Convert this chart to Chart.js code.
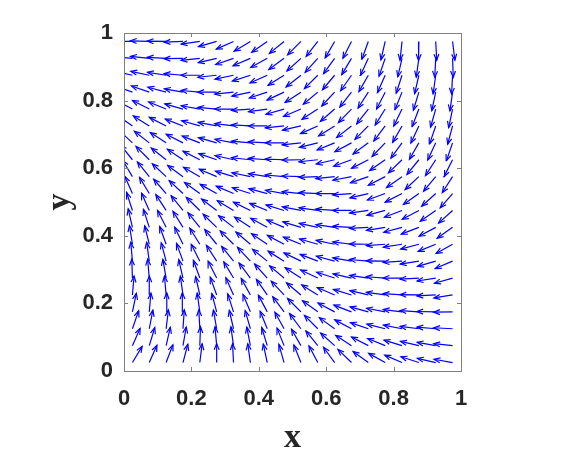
<!DOCTYPE html>
<html>
<head>
<meta charset="utf-8">
<script src="https://cdn.jsdelivr.net/npm/chart.js@4.4.1/dist/chart.umd.min.js"></script>
<style>
  html, body { margin: 0; padding: 0; background: #fff; }
  #wrap { width: 566px; height: 454px; }
</style>
</head>
<body>
<div id="wrap"><canvas id="quiverChart" width="566" height="454"></canvas></div>
<script>
// grid of arrow tails
const xCols = [0.025, 0.075, 0.125, 0.175, 0.225, 0.275, 0.325, 0.375, 0.425, 0.475,
               0.525, 0.575, 0.625, 0.675, 0.725, 0.775, 0.825, 0.875, 0.925, 0.975];
// rows listed top to bottom, same order as angleRows
const yRows = [0.975, 0.925, 0.875, 0.825, 0.775, 0.725, 0.675, 0.625, 0.575, 0.525,
               0.475, 0.425, 0.375, 0.325, 0.275, 0.225, 0.175, 0.125, 0.075, 0.025];

// arrow direction in degrees (0 = pointing right, 90 = up)
const angleRows = [
  [180,178,179,182,188,196,204,211,215,219,225,232,240,243,250,257,264,269,273,277],
  [175,174,177,181,186,193,199,203,209,216,222,228,234,239,245,251,257,262,267,272],
  [168,168,171,175,180,186,192,198,204,212,218,225,230,235,240,246,252,257,262,267],
  [160,161,165,170,175,180,186,192,198,205,213,220,227,232,237,243,248,253,258,262],
  [152,153,158,164,170,175,180,184,188,196,203,213,221,226,232,238,244,249,254,258],
  [145,148,153,159,164,169,173,177,180,186,193,204,212,218,225,233,240,245,251,255],
  [137,142,147,153,159,164,169,175,177,180,186,194,202,208,216,226,234,240,245,251],
  [129,135,142,146,153,161,167,174,176,178,181,186,193,200,207,215,224,231,237,243],
  [121,129,137,144,150,157,163,168,171,175,178,182,186,191,199,207,215,223,230,237],
  [114,121,131,137,144,151,157,162,165,170,174,177,180,184,193,200,207,215,222,229],
  [108,114,123,129,136,143,149,154,158,163,169,172,176,180,188,195,201,208,215,222],
  [103,108,117,122,129,136,142,147,151,157,163,168,172,177,183,189,195,201,208,215],
  [ 99,104,110,116,122,129,135,140,146,152,158,164,168,173,179,184,189,195,202,209],
  [ 95, 98,105,110,117,123,129,133,141,148,154,159,165,170,175,179,184,189,196,203],
  [ 92, 95,100,103,110,117,121,127,132,140,147,155,162,167,172,176,180,183,189,196],
  [ 85, 90, 95, 98,103,110,114,119,125,133,140,148,157,163,167,172,176,179,183,189],
  [ 78, 85, 88, 92, 98,105,108,113,118,127,135,144,152,159,165,169,173,176,179,181],
  [ 71, 79, 83, 86, 93,100,103,106,112,119,127,135,144,152,161,166,169,173,175,177],
  [ 66, 73, 77, 80, 88, 95, 98,101,107,112,120,129,138,147,153,158,163,167,170,174],
  [ 59, 66, 69, 75, 83, 90, 93, 98,102,106,112,118,126,136,144,151,157,162,167,170]
];

const xTicks = [0, 0.2, 0.4, 0.6, 0.8, 1];
const yTicks = [0, 0.2, 0.4, 0.6, 0.8, 1];

const arrowLen = 0.056;
const headAlpha = 0.33, headBeta = 0.4;

// build shafts and heads as polylines broken by gaps (like quiver does with NaN)
const shafts = [];
const heads = [];
yRows.forEach((y, r) => {
  xCols.forEach((x, c) => {
    const t = angleRows[r][c] * Math.PI / 180;
    const u = arrowLen * Math.cos(t);
    const v = arrowLen * Math.sin(t);
    const tx = x + u, ty = y + v;
    shafts.push({ x: x, y: y }, { x: tx, y: ty }, { x: tx, y: null });
    heads.push(
      { x: tx - headAlpha * (u + headBeta * v), y: ty - headAlpha * (v - headBeta * u) },
      { x: tx, y: ty },
      { x: tx - headAlpha * (u - headBeta * v), y: ty - headAlpha * (v + headBeta * u) },
      { x: tx, y: null }
    );
  });
});

// frame and inward ticks on all four sides
const boxPlugin = {
  id: 'boxPlugin',
  afterDatasetsDraw(chart) {
    const { ctx, chartArea: a, scales } = chart;
    const tl = 4;
    ctx.save();
    ctx.strokeStyle = '#808080';
    ctx.lineWidth = 1;
    ctx.strokeRect(a.left + 0.5, a.top + 0.5, a.right - a.left, a.bottom - a.top);
    ctx.beginPath();
    xTicks.forEach(v => {
      const px = Math.round(scales.x.getPixelForValue(v)) + 0.5;
      ctx.moveTo(px, a.bottom); ctx.lineTo(px, a.bottom - tl);
      ctx.moveTo(px, a.top); ctx.lineTo(px, a.top + tl);
    });
    yTicks.forEach(v => {
      const py = Math.round(scales.y.getPixelForValue(v)) + 0.5;
      ctx.moveTo(a.left, py); ctx.lineTo(a.left + tl, py);
      ctx.moveTo(a.right, py); ctx.lineTo(a.right - tl, py);
    });
    ctx.stroke();
    ctx.restore();
  }
};

const tickFont = { family: 'Liberation Sans', weight: 'bold', size: 22 };
const titleFont = { family: 'Liberation Serif', weight: 'bold', size: 34 };

new Chart(document.getElementById('quiverChart').getContext('2d'), {
  type: 'scatter',
  data: {
    datasets: [
      { data: shafts, showLine: true, spanGaps: false, borderColor: '#0000ff', borderWidth: 1.2, pointRadius: 0 },
      { data: heads, showLine: true, spanGaps: false, borderColor: '#0000ff', borderWidth: 1.2, pointRadius: 0 }
    ]
  },
  options: {
    responsive: false,
    animation: false,
    layout: { padding: { left: 0, right: 105, top: 33, bottom: 0 } },
    plugins: { legend: { display: false }, tooltip: { enabled: false } },
    scales: {
      x: {
        type: 'linear', min: 0, max: 1,
        afterFit: s => { s.height = 83; },
        afterBuildTicks: s => { s.ticks = xTicks.map(v => ({ value: v })); },
        grid: { display: false, drawTicks: false },
        border: { display: false },
        ticks: { font: tickFont, color: '#262626', padding: 15, maxRotation: 0, callback: v => String(v) },
        title: { display: true, text: 'x', font: titleFont, color: '#262626', padding: { top: 0, bottom: -5 } }
      },
      y: {
        type: 'linear', min: 0, max: 1,
        afterFit: s => { s.width = 124; },
        afterBuildTicks: s => { s.ticks = yTicks.map(v => ({ value: v })); },
        grid: { display: false, drawTicks: false },
        border: { display: false },
        ticks: { font: tickFont, color: '#262626', padding: 11, callback: v => String(v) },
        title: { display: true, text: 'y', font: titleFont, color: '#262626', padding: { top: 40, bottom: 0 } }
      }
    }
  },
  plugins: [boxPlugin]
});
</script>
</body>
</html>
